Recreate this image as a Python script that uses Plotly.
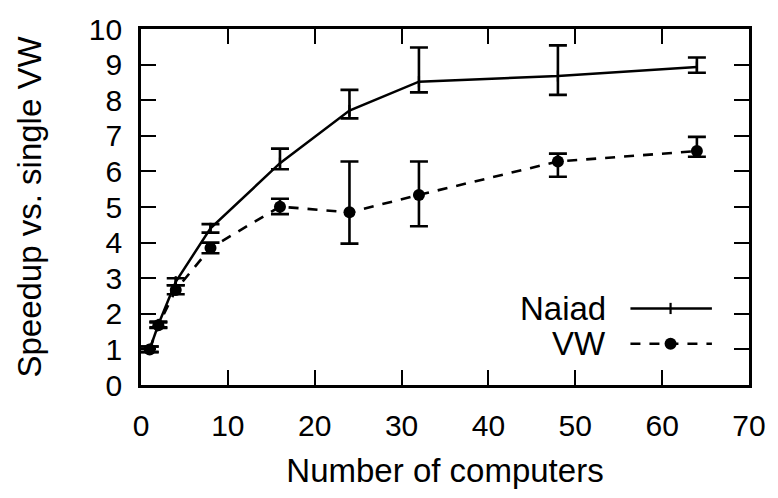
import plotly.graph_objects as go

computers = [1, 2, 4, 8, 16, 24, 32, 48, 64]
naiad = [1.0, 1.7, 2.9, 4.4, 6.23, 7.71, 8.52, 8.68, 8.93]
naiad_hi = [1.08, 1.78, 3.0, 4.52, 6.64, 8.29, 9.48, 9.54, 9.2]
naiad_lo = [0.93, 1.62, 2.8, 4.28, 6.06, 7.49, 8.22, 8.15, 8.77]
vw = [1.0, 1.68, 2.67, 3.85, 5.01, 4.85, 5.34, 6.28, 6.57]
vw_hi = [1.08, 1.76, 2.8, 4.0, 5.23, 6.28, 6.28, 6.5, 6.97]
vw_lo = [0.92, 1.6, 2.55, 3.7, 4.8, 3.97, 4.46, 5.85, 6.41]

x_ticks = [0, 10, 20, 30, 40, 50, 60, 70]
y_ticks = [0, 1, 2, 3, 4, 5, 6, 7, 8, 9, 10]

FONT = "Liberation Sans, Arial, Helvetica, sans-serif"
FS_TICK = 30
FS_TITLE = 33

def ebar(vals, hi, lo):
    return dict(type="data", symmetric=False,
                array=[h - v for h, v in zip(hi, vals)],
                arrayminus=[v - l for v, l in zip(vals, lo)],
                color="black", thickness=2.6, width=9)

fig = go.Figure()
fig.add_trace(go.Scatter(
    x=computers, y=naiad, mode="lines+markers", name="Naiad",
    line=dict(color="black", width=2.5),
    marker=dict(symbol="line-ns", size=8, line=dict(color="black", width=2.2), color="black"),
    error_y=ebar(naiad, naiad_hi, naiad_lo), showlegend=False))
fig.add_trace(go.Scatter(
    x=computers, y=vw, mode="lines+markers", name="VW",
    line=dict(color="black", width=2.6, dash="10px,9px"),
    marker=dict(symbol="circle", size=12, color="black"),
    error_y=ebar(vw, vw_hi, vw_lo), showlegend=False))

# legend samples (gnuplot style: label left of sample) on an overlay axis
leg_names = ["Naiad", "VW"]
leg_y = [0.215, 0.116]
fig.add_trace(go.Scatter(x=[0.805, 0.939], y=[leg_y[0]] * 2, mode="lines",
                         line=dict(color="black", width=2.5), xaxis="x2", yaxis="y2",
                         showlegend=False, hoverinfo="skip"))
fig.add_trace(go.Scatter(x=[0.871], y=[leg_y[0]], mode="markers",
                         marker=dict(symbol="line-ns", size=8, line=dict(color="black", width=2.2)),
                         xaxis="x2", yaxis="y2", showlegend=False, hoverinfo="skip"))
fig.add_trace(go.Scatter(x=[0.805, 0.939], y=[leg_y[1]] * 2, mode="lines",
                         line=dict(color="black", width=2.6, dash="10px,9px"), xaxis="x2", yaxis="y2",
                         showlegend=False, hoverinfo="skip"))
fig.add_trace(go.Scatter(x=[0.871], y=[leg_y[1]], mode="markers",
                         marker=dict(symbol="circle", size=12, color="black"),
                         xaxis="x2", yaxis="y2", showlegend=False, hoverinfo="skip"))
for name, yy in zip(leg_names, leg_y):
    fig.add_annotation(x=0.768, y=yy, xref="x2", yref="y2", text=name, showarrow=False,
                       xanchor="right", yanchor="middle", font=dict(size=FS_TITLE, color="black", family=FONT))

axis_common = dict(showgrid=False, zeroline=False, showline=True, linecolor="black", linewidth=2.6,
                   mirror="ticks", ticks="inside", ticklen=15, tickwidth=2.2, tickcolor="black",
                   tickfont=dict(size=FS_TICK, color="black", family=FONT))
fig.update_layout(
    width=778, height=498, margin=dict(l=141, r=25, t=22, b=113),
    paper_bgcolor="white", plot_bgcolor="white",
    font=dict(family=FONT, color="black"),
    xaxis=dict(range=[0, 70], tickvals=x_ticks, ticklabelstandoff=12,
               title=dict(text="Number of computers", font=dict(size=FS_TITLE), standoff=19), **axis_common),
    yaxis=dict(range=[0, 10], tickvals=y_ticks, ticklabelstandoff=10,
               title=dict(text="Speedup vs. single VW", font=dict(size=FS_TITLE), standoff=38), **axis_common),
    xaxis2=dict(range=[0, 1], overlaying="x", visible=False, anchor="y2"),
    yaxis2=dict(range=[0, 1], overlaying="y", visible=False, anchor="x2"),
    showlegend=False,
)

fig.write_html("out.html")
